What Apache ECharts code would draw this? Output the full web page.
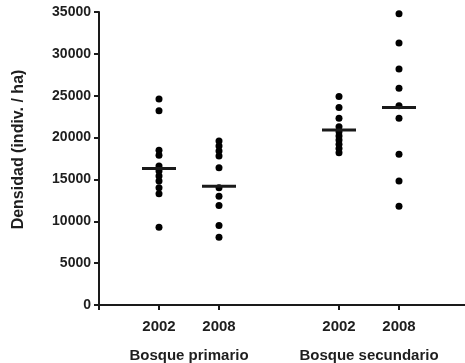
<!DOCTYPE html>
<html>
<head>
<meta charset="utf-8">
<script src="https://cdn.jsdelivr.net/npm/echarts@6/dist/echarts.min.js"></script>
<style>
  html, body { margin: 0; padding: 0; background: #fff; }
  #chart { width: 465px; height: 363px; }
</style>
</head>
<body>
<div id="chart"></div>
<script>
// x positions of the four sample columns and their labels
var xPos = [1, 2, 4, 5];
var xLabels = ['2002', '2008', '2002', '2008'];
var groupPos = [1.5, 4.5];
var groupNames = ['Bosque primario', 'Bosque secundario'];

// densidad por parcela (indiv. / ha)
var prim2002 = [24600, 23200, 18500, 17900, 16600, 16000, 15400, 14800, 14000, 13300, 9300];
var prim2008 = [19600, 19000, 18400, 17800, 16400, 14000, 13000, 11900, 9500, 8100];
var sec2002 = [24900, 23600, 22300, 21300, 20700, 20200, 19700, 19200, 18700, 18200];
var sec2008 = [34800, 31300, 28200, 25900, 23800, 22300, 18000, 14800, 11800];
var means = [16300, 14200, 20900, 23600];

var groups = [prim2002, prim2008, sec2002, sec2008];
var points = [];
groups.forEach(function (g, i) {
    g.forEach(function (v) { points.push([xPos[i], v]); });
});
var meanData = means.map(function (m, i) { return [xPos[i], m]; });

var chart = echarts.init(document.getElementById('chart'), null, { renderer: 'canvas' });
var txt = '#1e1e1e';
var axisCol = '#1a1a1a';
var font = 'Liberation Sans, Arial, sans-serif';

option = {
    animation: false,
    grid: { left: 99, right: 0, top: 12, bottom: 57 },
    xAxis: [
        {
            type: 'value',
            min: 0,
            max: 6.1,
            splitLine: { show: false },
            axisLine: { lineStyle: { color: axisCol, width: 2 } },
            axisTick: { customValues: [0].concat(xPos), length: 5, lineStyle: { color: axisCol, width: 2 } },
            axisLabel: {
                customValues: xPos,
                margin: 14,
                color: txt,
                fontWeight: 'bold',
                fontSize: 15,
                fontFamily: font,
                formatter: function (v) { return xLabels[xPos.indexOf(v)]; }
            }
        },
        {
            type: 'value',
            position: 'bottom',
            min: 0,
            max: 6.1,
            splitLine: { show: false },
            axisLine: { show: false },
            axisTick: { show: false },
            axisLabel: {
                customValues: groupPos,
                margin: 43,
                color: txt,
                fontWeight: 'bold',
                fontSize: 15,
                fontFamily: font,
                formatter: function (v) { return groupNames[groupPos.indexOf(v)]; }
            }
        }
    ],
    yAxis: {
        type: 'value',
        min: 0,
        max: 35000,
        interval: 5000,
        name: 'Densidad (indiv. / ha)',
        nameLocation: 'middle',
        nameGap: 72,
        nameTextStyle: {
            color: txt,
            fontWeight: 'bold',
            fontSize: 16,
            fontFamily: font,
            padding: [0, 0, 0, 18]
        },
        splitLine: { show: false },
        axisLine: { show: true, lineStyle: { color: axisCol, width: 2 } },
        axisTick: { show: true, length: 5, lineStyle: { color: axisCol, width: 2 } },
        axisLabel: {
            margin: 8,
            color: txt,
            fontWeight: 'bold',
            fontSize: 14,
            fontFamily: font,
            formatter: function (v) { return String(v); }
        }
    },
    series: [
        {
            type: 'scatter',
            data: points,
            symbol: 'circle',
            symbolSize: 7,
            itemStyle: { color: '#000', opacity: 1 }
        },
        {
            type: 'scatter',
            data: meanData,
            symbol: 'rect',
            symbolSize: [34, 3],
            itemStyle: { color: '#1a1a1a', opacity: 1 },
            z: 3
        }
    ]
};
chart.setOption(option);
</script>
</body>
</html>
